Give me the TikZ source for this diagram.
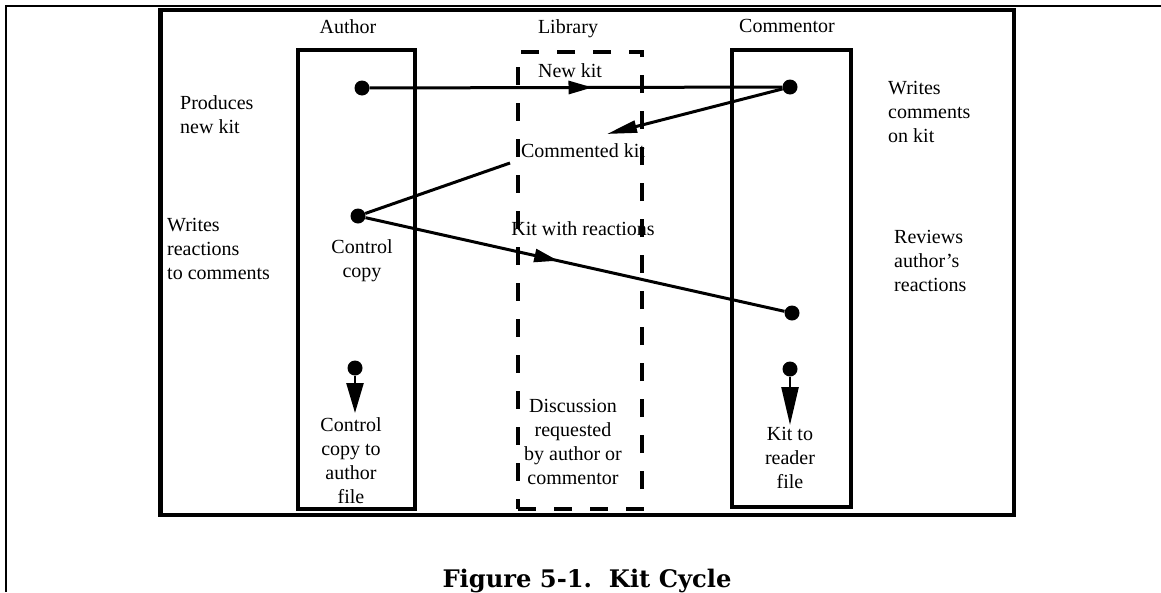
\documentclass[tikz,border=0pt]{standalone}
\usepackage{fontspec}
\setmainfont{Liberation Serif}
\newfontfamily\capfont{DejaVu Serif}
\usetikzlibrary{arrows.meta,decorations.markings}

\begin{document}
\begin{tikzpicture}[x=1pt, y=-1pt,
  every node/.style={font=\fontsize{20}{24}\selectfont, inner sep=0pt},
  colbox/.style={draw, line width=3.5pt, inner sep=0pt},
  dot/.style={circle, fill, inner sep=0pt, minimum size=15pt},
  flow/.style={line width=3pt},
  midarrow/.style={postaction={decorate}, decoration={markings,
    mark=at position #1 with {\arrow{Triangle[length=24pt,width=13pt]}}}}]
\useasboundingbox (0,0) rectangle (1161,592);

% Frame
\draw[line width=2pt] (6,592) -- (6,6) -- (1161,6);
\draw[line width=4.5pt] (160.5,10) rectangle (1014,515);

% Columns
\node[colbox, minimum width=117pt, minimum height=459pt] (author) at (356.5,279.25) {};
\node[colbox, dashed, dash pattern=on 18pt off 18pt, minimum width=124pt, minimum height=457pt] (library) at (580,280.5) {};
\node[colbox, minimum width=119pt, minimum height=457pt] (commentor) at (791.5,278.5) {};

\node[anchor=base] (authortxt) at (348,33) {Author};
\node[anchor=base] (librarytxt) at (568,33) {Library};
\node[anchor=base] (commentortxt) at (787,32) {Commentor};

% Dots
\node[dot] (adot1) at (362,88) {};
\node[dot] (cdot1) at (790,87) {};
\node[dot] (adot2) at (358,216) {};
\node[dot] (cdot2) at (792,313) {};
\node[dot] (adot3) at (355,368) {};
\node[dot] (cdot3) at (790,369) {};
\coordinate (ckitin) at (607,134);
\coordinate (ckitout) at (510,163);
\coordinate (afile) at (355,413);
\coordinate (cfile) at (790,425);

% Connections
\draw[flow, midarrow=0.54] (adot1) -- (cdot1);
\draw[flow, -{Triangle[length=30pt,width=12pt]}] (cdot1) -- (ckitin);
\draw[flow] (ckitout) -- (adot2);
\draw[flow, midarrow=0.46] (adot2) -- (cdot2);
\draw[line width=2.5pt, -{Triangle[length=30pt,width=17pt]}] (adot3) -- (afile);
\draw[line width=2.5pt, -{Triangle[length=38pt,width=17pt]}] (cdot3) -- (cfile);

% Labels
\node[anchor=base] (newkit) at (570,77) {New kit};
\node[anchor=base] (commkit) at (583,157) {Commented kit};
\node[anchor=base] (reactkit) at (583,235) {Kit with reactions};

\node[anchor=base west, align=left] (produces) at (180,133) {Produces\\new kit};
\node[anchor=base west, align=left] (writesreact) at (167,279) {Writes\\reactions\\to comments};
\node[anchor=base, align=center] (ctrlcopy) at (362,277) {Control\\copy};
\node[anchor=base, align=center] (ctrlfile) at (351,503) {Control\\copy to\\author\\file};

\node[anchor=base west, align=left] (writescomm) at (888,142) {Writes\\comments\\on kit};
\node[anchor=base west, align=left] (reviews) at (894,291) {Reviews\\author's\\reactions};
\node[anchor=base, align=center] (readerfile) at (790,488) {Kit to\\reader\\file};

\node[anchor=base, align=center] (discussion) at (573,484) {Discussion\\requested\\by author or\\commentor};

\node[anchor=base, font=\capfont\bfseries\fontsize{24.2}{28}\selectfont] (caption) at (587,587) {Figure 5-1.\ \ Kit Cycle};
\end{tikzpicture}
\end{document}
